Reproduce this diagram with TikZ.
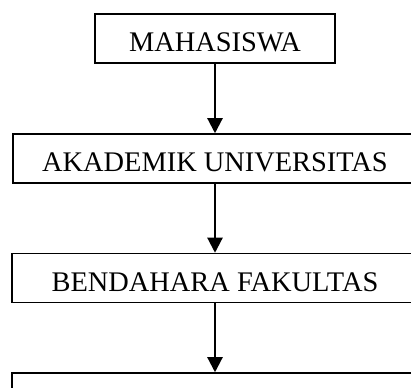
\documentclass[tikz,border=0pt]{standalone}
\usepackage{fontspec}
\setmainfont{Liberation Serif}
\usetikzlibrary{arrows.meta}
\begin{document}
\begin{tikzpicture}[x=1pt,y=1pt,
  flowbox/.style={draw=black, line width=1.5pt, inner sep=0pt, text height=38pt, text depth=11pt,
    font=\fontsize{28.4}{30}\selectfont, align=center},
  flowarrow/.style={line width=2.2pt, -{Triangle[width=15pt,length=15pt]}}]
\useasboundingbox (0,0) rectangle (411,387);
\clip (0,0) rectangle (411,387);
\node[flowbox, minimum width=240pt] (mhs) at (215,348.5) {MAHASISWA};
\node[flowbox, minimum width=404pt] (aka) at (215,228.5) {AKADEMIK UNIVERSITAS};
\node[flowbox, minimum width=406pt] (ben) at (215,109) {BENDAHARA FAKULTAS};
\node[flowbox, minimum width=406pt] (nxt) at (215,-10.5) {};
\draw[flowarrow] (mhs.south) -- (aka.north);
\draw[flowarrow] (aka.south) -- (ben.north);
\draw[flowarrow] (ben.south) -- (nxt.north);
\end{tikzpicture}
\end{document}
